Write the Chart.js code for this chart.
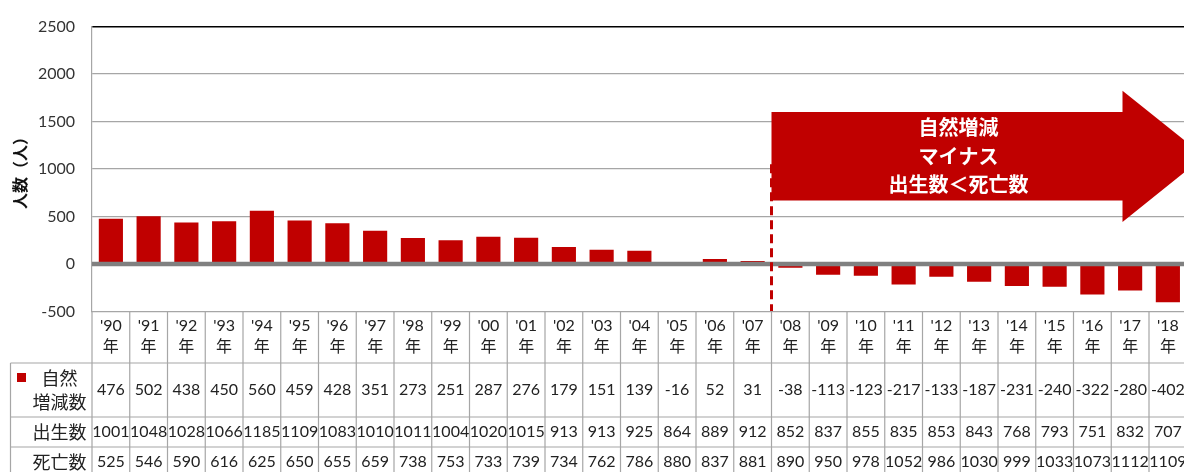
<!DOCTYPE html>
<html>
<head>
<meta charset="utf-8">
<script src="https://cdn.jsdelivr.net/npm/chart.js@4.4.1/dist/chart.umd.min.js"></script>
<style>
  html, body { margin: 0; padding: 0; overflow: hidden; background: #fff; }
</style>
</head>
<body>
<canvas id="myChart" width="1200" height="472"></canvas>
<script>
// data
const years = ["'90","'91","'92","'93","'94","'95","'96","'97","'98","'99","'00","'01","'02","'03","'04",
               "'05","'06","'07","'08","'09","'10","'11","'12","'13","'14","'15","'16","'17","'18"];
const naturalChange = [476,502,438,450,560,459,428,351,273,251,287,276,179,151,139,
                       -16,52,31,-38,-113,-123,-217,-133,-187,-231,-240,-322,-280,-402];
const births = [1001,1048,1028,1066,1185,1109,1083,1010,1011,1004,1020,1015,913,913,925,
                864,889,912,852,837,855,835,853,843,768,793,751,832,707];
const deaths = [525,546,590,616,625,650,655,659,738,753,733,739,734,762,786,
                880,837,881,890,950,978,1052,986,1030,999,1033,1073,1112,1109];
const yRange = [-500, 2500];
const yStep = 500;
const rowNames = ["自然増減数", "出生数", "死亡数"];
const arrowText = ["自然増減", "マイナス", "出生数＜死亡数"];

const RED = "#C00000";
const GRID = "#A6A6A6";
const NUM_FONT = 'Lato, "Noto Sans CJK JP", sans-serif';
const JP_FONT = '"Noto Sans CJK JP", sans-serif';

Chart.defaults.font.family = NUM_FONT;
Chart.defaults.color = "#222";

const tablePlugin = {
  id: "tablePlugin",
  afterDatasetsDraw(chart) {
    const { ctx, chartArea, scales: { x, y } } = chart;
    const colW = x.getPixelForValue(1) - x.getPixelForValue(0);
    ctx.save();

    // zero line on top of the bars
    const y0 = y.getPixelForValue(0);
    ctx.strokeStyle = "#808080";
    ctx.lineWidth = 4.5;
    ctx.beginPath();
    ctx.moveTo(chartArea.left, y0);
    ctx.lineTo(chartArea.right, y0);
    ctx.stroke();

    // dashed split line between '07 and '08
    const splitX = x.getPixelForValue(years.indexOf("'08")) - colW / 2;
    ctx.strokeStyle = RED;
    ctx.lineWidth = 3;
    ctx.setLineDash([9, 5]);
    ctx.beginPath();
    ctx.moveTo(splitX, y.getPixelForValue(1050));
    ctx.lineTo(splitX, chartArea.bottom);
    ctx.stroke();
    ctx.setLineDash([]);

    // arrow
    const bodyTop = y.getPixelForValue(1600), bodyBot = y.getPixelForValue(670);
    const headTop = y.getPixelForValue(1825), headBot = y.getPixelForValue(443);
    const midY = (bodyTop + bodyBot) / 2;
    const bodyEnd = splitX + 351;
    const tipX = bodyEnd + 82;
    ctx.fillStyle = RED;
    ctx.beginPath();
    ctx.moveTo(splitX, bodyTop);
    ctx.lineTo(bodyEnd, bodyTop);
    ctx.lineTo(bodyEnd, headTop);
    ctx.lineTo(tipX, midY);
    ctx.lineTo(bodyEnd, headBot);
    ctx.lineTo(bodyEnd, bodyBot);
    ctx.lineTo(splitX, bodyBot);
    ctx.closePath();
    ctx.fill();

    ctx.fillStyle = "#fff";
    ctx.font = "bold 20px " + JP_FONT;
    ctx.textAlign = "center";
    ctx.textBaseline = "middle";
    const tx = splitX + 187;
    arrowText.forEach((t, i) => ctx.fillText(t, tx, midY - 28.5 + i * 28.5));
    ctx.restore();
  },
  afterDraw(chart) {
    const { ctx, chartArea, scales: { x } } = chart;
    const colW = x.getPixelForValue(1) - x.getPixelForValue(0);
    const top = chartArea.bottom;
    const rows = [top + 51.5, top + 105.5, top + 135.5, top + 165.5];
    const tableLeft = 10.5;
    const bottom = chart.height + 5;
    ctx.save();
    ctx.strokeStyle = GRID;
    ctx.lineWidth = 1.2;
    ctx.beginPath();
    ctx.moveTo(chartArea.left, top); ctx.lineTo(chartArea.right, top);
    rows.forEach(r => { ctx.moveTo(tableLeft, r); ctx.lineTo(chartArea.right, r); });
    ctx.moveTo(tableLeft, rows[0]); ctx.lineTo(tableLeft, bottom);
    for (let i = 0; i <= years.length; i++) {
      const bx = chartArea.left + i * colW;
      ctx.moveTo(bx, top); ctx.lineTo(bx, bottom);
    }
    ctx.stroke();

    // row headers
    const hx = 59.5;
    ctx.fillStyle = RED;
    ctx.fillRect(17, rows[0] + 10, 9, 9);
    ctx.fillStyle = "#222";
    ctx.font = "18px " + JP_FONT;
    ctx.textAlign = "center";
    ctx.textBaseline = "middle";
    ctx.fillText(rowNames[0].slice(0, 2), hx, rows[0] + 15);
    ctx.fillText(rowNames[0].slice(2), hx, rows[0] + 39);
    ctx.fillText(rowNames[1], hx, (rows[1] + rows[2]) / 2);
    ctx.fillText(rowNames[2], hx, (rows[2] + rows[3]) / 2);

    // values
    ctx.font = "16px " + NUM_FONT;
    const rowY = [(rows[0] + rows[1]) / 2, (rows[1] + rows[2]) / 2, (rows[2] + rows[3]) / 2];
    [naturalChange, births, deaths].forEach((arr, r) => {
      arr.forEach((v, i) => ctx.fillText(String(v), x.getPixelForValue(i), rowY[r]));
    });
    ctx.restore();
  }
};

new Chart(document.getElementById("myChart").getContext("2d"), {
  type: "bar",
  data: {
    labels: years.map(yr => [yr, "年"]),
    datasets: [{
      label: "自然増減数",
      data: naturalChange,
      backgroundColor: RED,
      barPercentage: 0.64,
      categoryPercentage: 1.0
    }]
  },
  options: {
    responsive: false,
    animation: false,
    layout: { padding: { left: 0, top: 20, right: 13.25, bottom: 0 } },
    plugins: {
      legend: { display: false },
      tooltip: { enabled: false }
    },
    scales: {
      x: {
        grid: { display: false, drawTicks: false },
        border: { display: false },
        ticks: {
          autoSkip: false, maxRotation: 0, padding: 4,
          font: { size: 16, lineHeight: 1.3 }, color: "#222"
        },
        afterFit(scale) { scale.height = 160.5; }
      },
      y: {
        min: yRange[0], max: yRange[1],
        ticks: {
          stepSize: yStep, padding: 17, font: { size: 16 }, color: "#333",
          callback: v => String(v)
        },
        grid: {
          drawTicks: false,
          color: c => c.tick.value === yRange[1] ? "#000" : (c.tick.value === 0 ? "rgba(0,0,0,0)" : GRID),
          lineWidth: c => c.tick.value === yRange[1] ? 1.6 : 1.2
        },
        border: { display: true, color: GRID, width: 1.2 },
        title: {
          display: true, text: "人数（人）", color: "#111",
          font: { family: JP_FONT, size: 16, weight: "bold" },
          padding: { top: 10, bottom: 0 }
        },
        afterFit(scale) { scale.width = 92; }
      }
    }
  },
  plugins: [tablePlugin]
});
</script>
</body>
</html>
